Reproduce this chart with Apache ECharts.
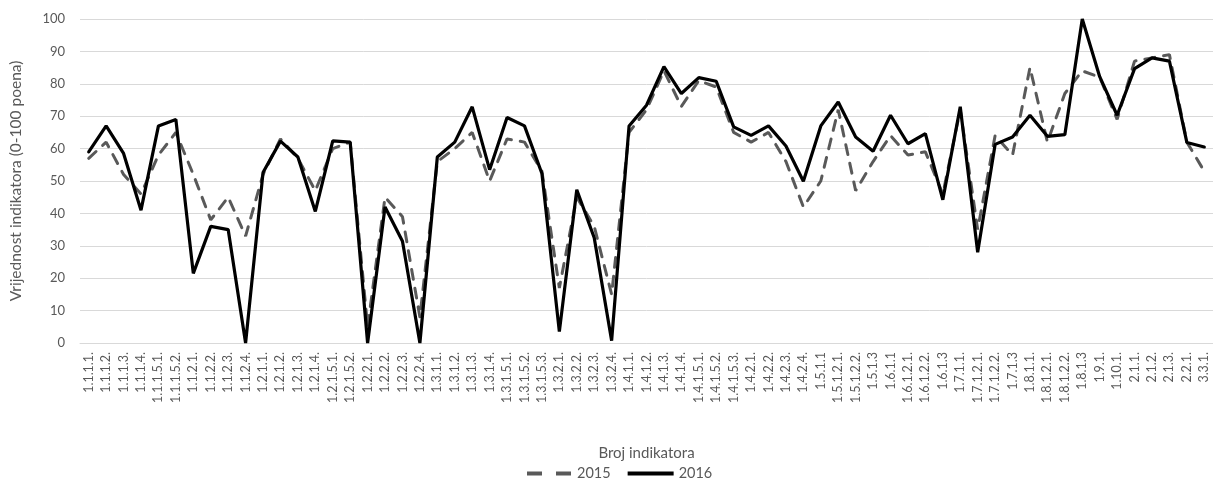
<!DOCTYPE html>
<html>
<head>
<meta charset="utf-8">
<script src="https://cdn.jsdelivr.net/npm/echarts@6/dist/echarts.min.js"></script>
<style>html,body{margin:0;padding:0;background:#fff}#c{width:1213px;height:483px}</style>
</head>
<body>
<div id="c"></div>
<script>
const categories = ["1.1.1.1.","1.1.1.2.","1.1.1.3.","1.1.1.4.","1.1.1.5.1.","1.1.1.5.2.","1.1.2.1.","1.1.2.2.","1.1.2.3.","1.1.2.4.",
"1.2.1.1.","1.2.1.2.","1.2.1.3.","1.2.1.4.","1.2.1.5.1.","1.2.1.5.2.","1.2.2.1.","1.2.2.2.","1.2.2.3.","1.2.2.4.",
"1.3.1.1.","1.3.1.2.","1.3.1.3.","1.3.1.4.","1.3.1.5.1.","1.3.1.5.2.","1.3.1.5.3.","1.3.2.1.","1.3.2.2.","1.3.2.3.","1.3.2.4.",
"1.4.1.1.","1.4.1.2.","1.4.1.3.","1.4.1.4.","1.4.1.5.1.","1.4.1.5.2.","1.4.1.5.3.","1.4.2.1.","1.4.2.2.","1.4.2.3.","1.4.2.4.",
"1.5.1.1","1.5.1.2.1.","1.5.1.2.2.","1.5.1.3","1.6.1.1","1.6.1.2.1.","1.6.1.2.2.","1.6.1.3",
"1.7.1.1.","1.7.1.2.1.","1.7.1.2.2.","1.7.1.3","1.8.1.1.","1.8.1.2.1.","1.8.1.2.2.","1.8.1.3",
"1.9.1.","1.10.1.","2.1.1.","2.1.2.","2.1.3.","2.2.1.","3.3.1."];

const values2015 = [57,62,52,46,58,65,52,38,45,33,
52,63,57,47,60,62,5,45,39,8,
56,60,65,50,63,62,53,17,45,36,15,
65,72,84,73,81,79,65,62,65,56,42,
50,72,47,56,64,58,59,46,
72,35,64,58,85,62,77,84,
82,69,87,88,89,62,53];

const values2016 = [59,67,58.5,41,67,69,21.5,36,35,0,
52.6,62.3,57.4,40.6,62.4,62,0,42,31.4,0,
57.4,62,72.9,53.5,69.6,67,52.3,3.5,47.3,32.5,0.7,
67,73.4,85.3,77,81.9,80.8,66.7,64.1,67,60.8,49.9,
67,74.4,63.6,59.2,70.3,61.5,64.6,44.2,
72.9,28,61.3,63.6,70.3,63.8,64.3,100,
82.2,70.3,84.7,88,87,61.9,60.5];

const yTicks = { min: 0, max: 100, interval: 10 };

const font = 'Lato, "Open Sans", sans-serif';
const chart = echarts.init(document.getElementById('c'));
chart.setOption({
  animation: false,
  textStyle: { fontFamily: font },
  grid: { left: 78, right: -4, top: 19, bottom: 140, containLabel: false },
  legend: {
    bottom: -3, left: 522,
    itemWidth: 46, itemHeight: 4, itemGap: 17,
    textStyle: { color: '#595959', fontSize: 14.5, fontFamily: font },
    data: [
      { name: '2015', icon: 'path://M0,0H15V4H0Z M29,0H44V4H29Z', itemStyle: { color: '#595959' } },
      { name: '2016', icon: 'rect', itemStyle: { color: '#000000' } }
    ]
  },
  xAxis: {
    type: 'category',
    data: categories,
    boundaryGap: true,
    name: 'Broj indikatora',
    nameLocation: 'middle',
    nameGap: 103,
    nameTextStyle: { color: '#595959', fontSize: 15, fontFamily: font },
    axisLine: { show: true, lineStyle: { color: '#d9d9d9', width: 1 } },
    axisTick: { show: false },
    axisLabel: { rotate: 90, interval: 0, color: '#595959', fontSize: 12.5, margin: 9, fontFamily: font }
  },
  yAxis: {
    type: 'value',
    min: yTicks.min, max: yTicks.max, interval: yTicks.interval,
    name: 'Vrijednost indikatora (0-100 poena)',
    nameLocation: 'middle',
    nameGap: 56,
    nameTextStyle: { color: '#595959', fontSize: 15.5, fontFamily: font },
    axisLine: { show: false },
    axisTick: { show: false },
    axisLabel: { color: '#595959', fontSize: 13, margin: 15, fontFamily: font },
    splitLine: { lineStyle: { color: '#d9d9d9', width: 1 } }
  },
  series: [
    {
      name: '2015', type: 'line', data: values2015,
      symbol: 'none', z: 2,
      lineStyle: { color: '#595959', width: 3, type: [10, 9], cap: 'round' },
      itemStyle: { color: '#595959' }
    },
    {
      name: '2016', type: 'line', data: values2016,
      symbol: 'none', z: 3,
      lineStyle: { color: '#000000', width: 3.2, cap: 'round' },
      itemStyle: { color: '#000000' }
    }
  ]
});
</script>
</body>
</html>
